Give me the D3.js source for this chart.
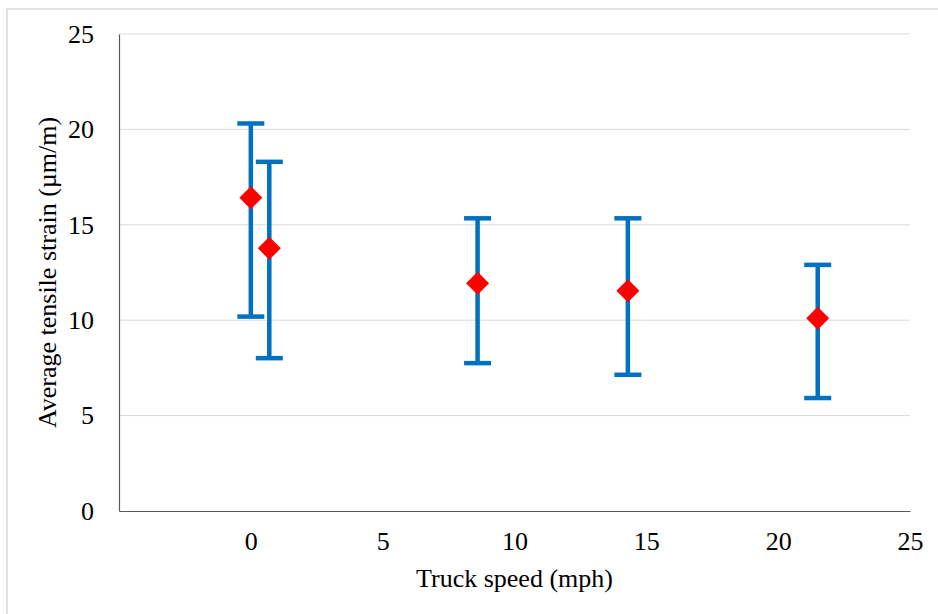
<!DOCTYPE html>
<html>
<head>
<meta charset="utf-8">
<script src="https://cdn.jsdelivr.net/npm/d3@7"></script>
<style>
  html, body { margin: 0; padding: 0; background: #fff; }
  svg { display: block; }
</style>
</head>
<body>
<svg id="chart" width="938" height="614"></svg>
<script>
// Data
const speeds = [0, 0.7, 8.6, 14.3, 21.5];
const meanStrain = [16.42, 13.77, 11.94, 11.55, 10.1];
const upperStrain = [20.31, 18.3, 15.34, 15.34, 12.9];
const lowerStrain = [10.19, 8.01, 7.75, 7.14, 5.92];
const xTicks = [0, 5, 10, 15, 20, 25];
const yTicks = [0, 5, 10, 15, 20, 25];
const xTitle = "Truck speed (mph)";
const yTitle = "Average tensile strain (µm/m)";

const svg = d3.select("#chart");
const W = 938, H = 614;
const m = { left: 119, right: 28, top: 34, bottom: 103 };
const font = "'Liberation Serif', 'Times New Roman', serif";
const fs = 26;

// outer border
svg.append("rect").attr("x", 7).attr("y", 9).attr("width", W).attr("height", H)
  .attr("fill", "#fff").attr("stroke", "#D9D9D9").attr("stroke-width", 1.5);

const x = d3.scaleLinear().domain([-5, 25]).range([m.left, W - m.right]);
const y = d3.scaleLinear().domain([0, 25]).range([H - m.bottom, m.top]);

// gridlines
svg.append("g").selectAll("line").data(yTicks.filter(d => d > 0)).join("line")
  .attr("x1", x(-5)).attr("x2", x(25))
  .attr("y1", d => y(d)).attr("y2", d => y(d))
  .attr("stroke", "#D9D9D9").attr("stroke-width", 1);

// axes
const xAxis = svg.append("g").attr("transform", `translate(0,${y(0)})`)
  .call(d3.axisBottom(x).tickValues(xTicks).tickSize(0).tickPadding(21));
const yAxis = svg.append("g").attr("transform", `translate(${x(-5)},0)`)
  .call(d3.axisLeft(y).tickValues(yTicks).tickSize(0).tickPadding(25));
[xAxis, yAxis].forEach(a => {
  a.select(".domain").attr("stroke", "#595959").attr("stroke-width", 1.2);
  a.selectAll("text").attr("font-family", font).attr("font-size", fs).attr("fill", "#000");
});
xAxis.selectAll("text").attr("dy", "0.71em");

// titles
svg.append("text").attr("x", (x(-5) + x(25)) / 2).attr("y", 587)
  .attr("text-anchor", "middle").attr("font-family", font).attr("font-size", fs)
  .attr("fill", "#000").text(xTitle);
svg.append("text").attr("transform", `translate(56,${(y(0) + y(25)) / 2}) rotate(-90)`)
  .attr("text-anchor", "middle").attr("font-family", font).attr("font-size", fs)
  .attr("fill", "#000").text(yTitle);

// error bars
const idx = d3.range(speeds.length);
const blue = "#0070C0";
const cap = 13.5;
const eb = svg.append("g").attr("stroke", blue).attr("stroke-width", 4.5);
eb.selectAll(".v").data(idx).join("line")
  .attr("x1", i => x(speeds[i])).attr("x2", i => x(speeds[i]))
  .attr("y1", i => y(upperStrain[i])).attr("y2", i => y(lowerStrain[i]));
eb.selectAll(".t").data(idx).join("line")
  .attr("x1", i => x(speeds[i]) - cap).attr("x2", i => x(speeds[i]) + cap)
  .attr("y1", i => y(upperStrain[i])).attr("y2", i => y(upperStrain[i]));
eb.selectAll(".b").data(idx).join("line")
  .attr("x1", i => x(speeds[i]) - cap).attr("x2", i => x(speeds[i]) + cap)
  .attr("y1", i => y(lowerStrain[i])).attr("y2", i => y(lowerStrain[i]));

// diamonds
const r = 11.5;
svg.append("g").selectAll("path").data(idx).join("path")
  .attr("d", i => {
    const cx = x(speeds[i]), cy = y(meanStrain[i]);
    return `M${cx},${cy - r}L${cx + r},${cy}L${cx},${cy + r}L${cx - r},${cy}Z`;
  })
  .attr("fill", "#FF0000");
</script>
</body>
</html>
